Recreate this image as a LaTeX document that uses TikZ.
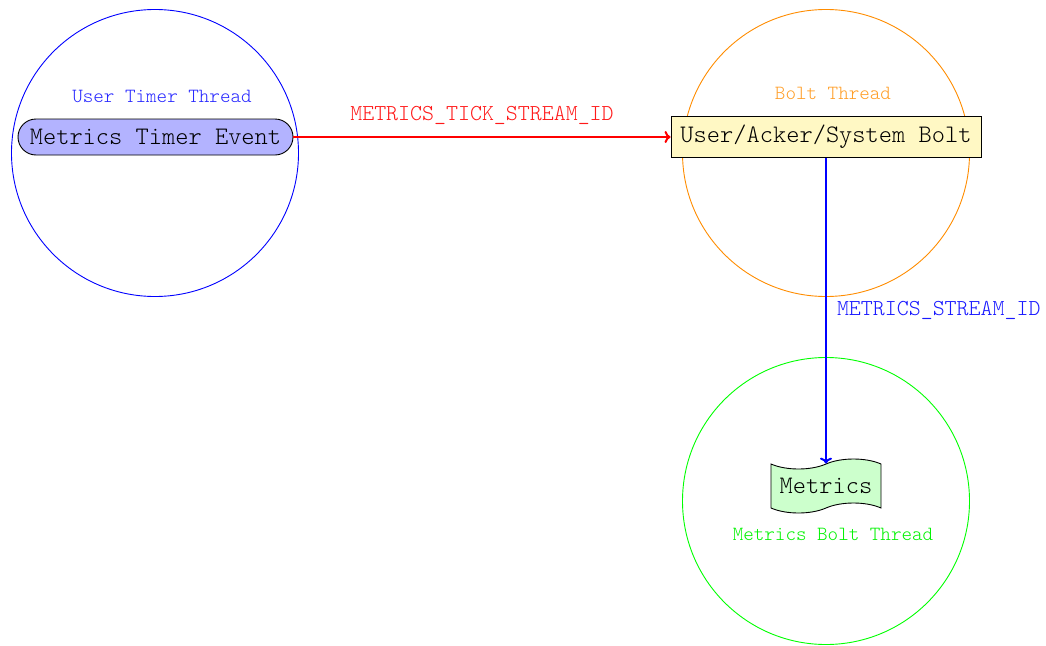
\documentclass[tikz,border=0pt]{standalone}
\usetikzlibrary{shapes.symbols, arrows.meta}
\definecolor{threadorange}{RGB}{255,140,0}
\definecolor{boltfill}{RGB}{255,248,196}
\definecolor{eventfill}{RGB}{179,179,255}
\definecolor{sinkfill}{RGB}{204,255,204}
\newcommand{\lightmono}{\ttfamily\fontseries{l}\selectfont}
\tikzset{
  thread/.style={draw, circle, minimum size=287pt, inner sep=0pt, line width=0.9pt},
  threadlabel/.style={font=\lightmono\fontsize{20.1}{24}\selectfont, inner sep=0pt},
  streamlabel/.style={font=\lightmono\fontsize{22.8}{27}\selectfont, inner sep=0pt},
  mainbox/.style={draw, line width=0.9pt, font=\lightmono\fontsize{25.2}{30}\selectfont, inner sep=0pt},
  flow/.style={-{To[length=6pt,width=12pt]}, line width=2pt}
}
\begin{document}
\begin{tikzpicture}[x=1pt, y=-1pt]
\useasboundingbox (0,0) rectangle (1046,645);

% thread circles
\node[thread, draw=blue] (timerthread) at (155,153) {};
\node[thread, draw=threadorange] (boltthread) at (826,153) {};
\node[thread, draw=green] (metricsthread) at (826,501) {};

% thread captions
\node[threadlabel, text=blue!85] (timercap) at (162,96) {User Timer Thread};
\node[threadlabel, text=threadorange!85] (boltcap) at (833,93) {Bolt Thread};
\node[threadlabel, text=green!95!black] (metricscap) at (833,534) {Metrics Bolt Thread};

% components
\node[mainbox, fill=eventfill, rounded corners=18pt, minimum width=275pt, minimum height=36pt] (event) at (155.5,137) {Metrics Timer Event};
\node[mainbox, fill=boltfill, minimum width=310pt, minimum height=41pt] (bolt) at (826,137) {User/Acker/System Bolt};
\node[mainbox, tape, tape bend height=10pt, fill=sinkfill, minimum width=110pt, minimum height=54pt] (metrics) at (826,486) {Metrics};

% streams
\draw[flow, red] (event.east) -- (bolt.west)
  node[streamlabel, text=red!90, midway, above=11pt] (tickid) {METRICS\_TICK\_STREAM\_ID};
\draw[flow, blue] (bolt.south) -- (metrics.north)
  node[streamlabel, text=blue!90, pos=0.5, right=10pt] (streamid) {METRICS\_STREAM\_ID};
\end{tikzpicture}
\end{document}
